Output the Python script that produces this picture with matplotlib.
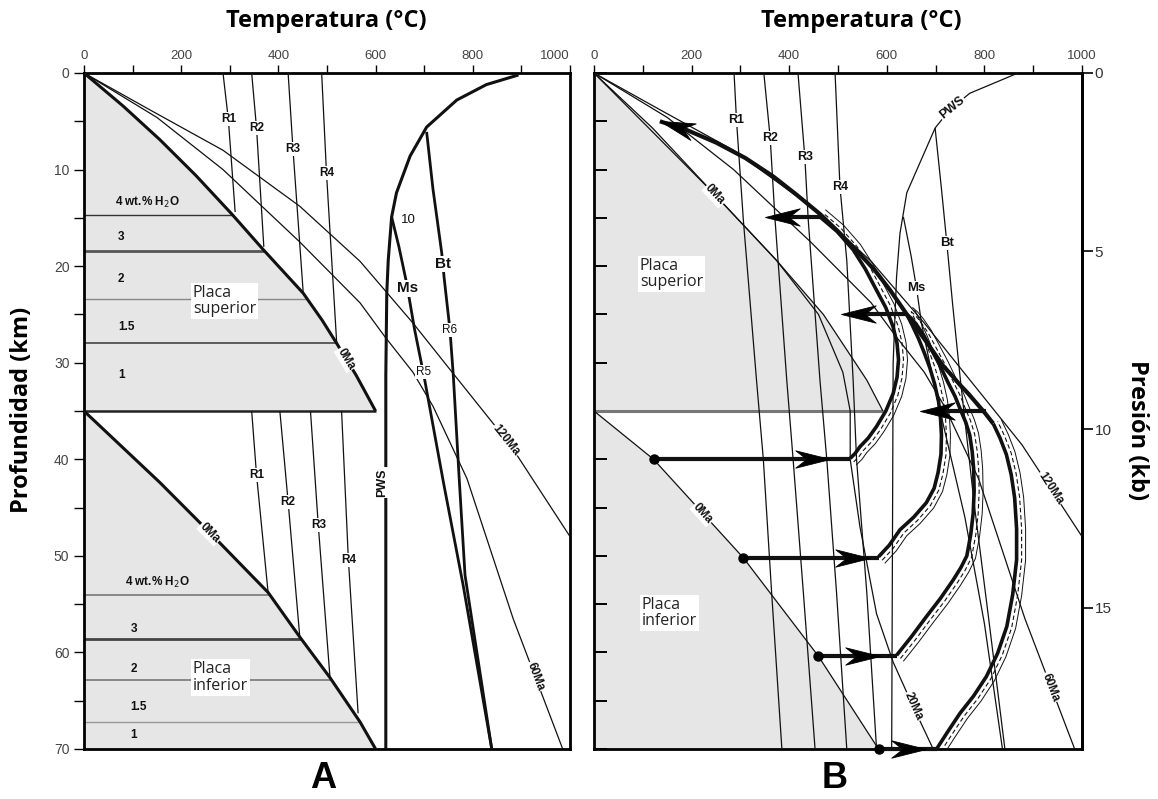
import numpy as np
import matplotlib.pyplot as plt
from matplotlib.path import Path
from matplotlib.markers import MarkerStyle
from matplotlib.transforms import Affine2D

plt.rcParams['font.family'] = ['Liberation Sans', 'DejaVu Sans']

KM_PER_KB = 3.69   # depth -> pressure for the right-hand scale of B

# geotherms used in both panels (T in degC, depth in km)
t_120ma = [0, 135, 286, 444, 568, 677, 753, 877, 1000]
z_120ma = [0, 3.8, 8.0, 13.8, 19.5, 25.9, 30.7, 38.5, 48.0]
t_60ma = [0, 150, 286, 444, 568, 619, 677, 718, 788, 883, 985]
z_60ma = [0, 4.6, 10.0, 17.5, 23.8, 27.3, 31.0, 34.5, 42.0, 56.5, 70.0]

react_names = ['R1', 'R2', 'R3', 'R4']
h2o_labels = ['4 wt.% H$_2$O', '3', '2', '1.5', '1']

# ---------------- panel A ----------------
a_0ma_up_t = [0, 80, 156, 230, 304, 369, 451, 490, 520, 560, 600]
a_0ma_up_z = [0, 3.4, 6.9, 10.6, 14.6, 18.3, 22.8, 25.6, 28.0, 31.3, 35.0]
a_0ma_lo_t = [0, 156, 259, 379, 444, 506, 568, 600]
a_0ma_lo_z = [35.0, 42.4, 47.6, 53.8, 58.4, 62.6, 67.2, 70.0]

a_h2o_up_z = [14.7, 18.4, 23.4, 28.0]
a_h2o_lo_z = [54.1, 58.6, 62.9, 67.2]
a_h2o_up_lab_z = [13.4, 17.0, 21.3, 26.3, 31.3]
a_h2o_lo_lab_z = [52.8, 57.6, 61.7, 65.6, 68.6]

a_react_up_t = [[286, 297, 311], [345, 355, 370], [420, 430, 451], [489, 499, 520]]
a_react_up_z = [[0, 4.8, 14.4], [0, 5.7, 18.0], [0, 7.9, 22.7], [0, 10.4, 28.0]]
a_react_lo_t = [[345, 355, 379], [403, 420, 444], [466, 482, 506], [530, 544, 564]]
a_react_lo_z = [[35, 41.6, 53.9], [35, 44.4, 58.4], [35, 46.8, 62.5], [35, 50.4, 66.3]]

a_pws_t = [894, 828, 767, 705, 671, 643, 633, 626, 623, 621, 621]
a_pws_z = [0.2, 1.2, 2.8, 5.6, 8.6, 12.4, 14.9, 19.4, 22.8, 31.4, 70.0]
a_ms_t = [633, 648, 664, 680, 700, 740, 780, 839]
a_ms_z = [14.9, 18.0, 21.8, 26.5, 31.5, 42.5, 53.0, 70.0]
a_bt_t = [705, 718, 736, 741, 753, 760, 772, 784, 839]
a_bt_z = [6.1, 12.0, 18.6, 21.2, 26.6, 31.4, 42.0, 52.0, 70.0]

# ---------------- panel B ----------------
b_0ma_up_t = [0, 120, 244, 374, 470, 559, 592]
b_0ma_up_z = [0, 5.7, 12.4, 19.4, 25.0, 31.8, 35.0]
b_0ma_lo_t = [0, 122, 306, 460, 583]
b_0ma_lo_z = [35.0, 40.0, 50.2, 60.4, 70.0]
b_20ma_t = [0, 244, 374, 460, 510, 525, 525, 545, 579, 613, 654, 695]
b_20ma_z = [0, 12.4, 19.4, 25.0, 31.0, 35.0, 40.0, 47.0, 56.0, 61.0, 65.6, 70.0]

b_react_t = [[287, 292, 306, 333, 347, 364, 385],
             [348, 361, 371, 395, 408, 429, 453],
             [418, 432, 439, 463, 477, 497, 518],
             [494, 504, 518, 531, 538, 559, 579]]
b_react_z = [[0, 4.9, 15.2, 31.8, 40.0, 53.8, 70.0],
             [0, 6.7, 15.2, 31.8, 40.0, 53.8, 70.0],
             [0, 8.7, 15.2, 31.8, 40.0, 53.8, 70.0],
             [0, 11.8, 19.4, 31.8, 40.0, 53.8, 70.0]]

b_pws_t = [869, 770, 729, 699, 641, 627, 620, 613, 610]
b_pws_z = [0, 2.1, 3.8, 5.7, 12.4, 16.6, 21.1, 30.0, 70.0]
b_ms_t = [634, 650, 661, 671, 700, 760, 800, 837]
b_ms_z = [14.9, 19.0, 22.3, 25.9, 33.0, 46.0, 57.0, 70.0]
b_bt_t = [699, 712, 723, 735, 750, 780, 810, 842]
b_bt_z = [5.7, 12.0, 17.6, 24.0, 31.4, 45.0, 57.0, 70.0]

# isobaric heating of the lower plate (start on 0Ma geotherm)
b_heat_end_t = [525, 583, 620, 702]
b_heat_tip_t = [484, 566, 586, 681]
# isobaric cooling arrows
b_cool_z = [14.9, 25.0, 35.0]
b_cool_start_t = [463, 641, 804]
b_cool_tip_t = [350, 507, 668]

# exhumation loops
arc1_t = [525, 535, 545, 562, 579, 598, 613, 621, 624, 621, 613, 598, 579, 556, 531, 498, 463]
arc1_z = [39.9, 39.4, 38.7, 37.8, 36.6, 35.0, 33.2, 31.5, 29.7, 28.0, 26.3, 24.3, 22.5,
          20.3, 18.3, 16.4, 14.9]
arc2_t = [583, 605, 627, 655, 681, 697, 705, 711, 712, 710, 706, 698, 688, 677, 665, 652, 641]
arc2_z = [50.1, 48.9, 47.3, 46.0, 44.5, 43.0, 41.4, 39.5, 37.5, 35.7, 34.0, 32.2, 30.5,
          29.0, 27.5, 26.1, 25.0]
arc3_t = [620, 650, 681, 710, 736, 752, 764, 772, 777, 779, 778, 775, 770, 762, 752, 740,
          725, 708, 690, 675, 660, 650, 641]
arc3_z = [60.3, 58.4, 56.3, 54.4, 52.5, 51.2, 50.0, 47.8, 45.6, 43.3, 41.0, 39.2, 37.5,
          36.2, 35.0, 33.5, 32.0, 30.2, 28.5, 27.1, 26.0, 25.4, 25.0]
arc4_t = [702, 725, 750, 778, 804, 827, 846, 858, 866, 866, 862, 855, 845, 832, 818]
arc4_z = [70.0, 68.2, 66.3, 64.5, 62.5, 60.1, 57.3, 54.0, 50.4, 47.2, 44.0, 41.6, 39.5,
          37.8, 36.3]
top_t = [818, 801, 784, 767, 750, 733, 715, 682, 648, 607, 575, 540, 502, 463, 415, 367,
         310, 250, 190, 135]
top_z = [36.3, 35.2, 34.2, 33.2, 32.3, 31.3, 30.3, 27.9, 25.5, 22.5, 20.4, 18.5, 16.5,
         14.6, 12.6, 10.7, 8.8, 7.2, 5.9, 5.0]

GRAY = '#e6e6e6'
INK = '#111111'

HEAD = Path([(0, 0), (-1, 0.25), (-0.68, 0), (-1, -0.25), (0, 0)],
            [Path.MOVETO, Path.LINETO, Path.LINETO, Path.LINETO, Path.CLOSEPOLY])


def line(ax, t, z, lw=0.9, color=INK, ls='-', zorder=3, clip=True):
    ax.plot(t, z, color=color, lw=lw, ls=ls, zorder=zorder, clip_on=clip,
            solid_capstyle='butt', solid_joinstyle='round')


def tag(ax, t, z, s, size=8.5, rot=0, weight='bold', ha='center', va='center',
        zorder=6, family=None, box=True):
    kw = {}
    if family:
        kw['family'] = family
    if box:
        kw['bbox'] = dict(boxstyle='square,pad=0.08', fc='white', ec='none')
    ax.text(t, z, s, fontsize=size, rotation=rot, fontweight=weight, ha=ha, va=va,
            zorder=zorder, rotation_mode='anchor', color=INK, **kw)


def tag_on(ax, t, z, at_z, s, rot=None, **kw):
    t = np.asarray(t, float)
    z = np.asarray(z, float)
    tl = np.interp(at_z, z, t)
    i = int(np.clip(np.searchsorted(z, at_z) - 1, 0, len(z) - 2))
    p = ax.transData.transform([(t[i], z[i]), (t[i + 1], z[i + 1])])
    ang = np.degrees(np.arctan2(p[1, 1] - p[0, 1], p[1, 0] - p[0, 0]))
    if ang > 90:
        ang -= 180
    elif ang <= -90:
        ang += 180
    tag(ax, tl, at_z, s, rot=ang if rot is None else rot, **kw)


def head(ax, t, z, ang, clip=True):
    m = MarkerStyle(HEAD, transform=Affine2D().rotate_deg(ang))
    ax.plot([t], [z], marker=m, ms=50, color='k', mew=0.6, ls='none',
            zorder=8, clip_on=clip)


def envelope(ax, t, z, d_px, **kw):
    # copy of a path shifted sideways by d_px screen pixels
    pts = ax.transData.transform(np.column_stack([t, z]))
    d = np.gradient(pts, axis=0)
    n = np.column_stack([d[:, 1], -d[:, 0]])
    n /= np.hypot(n[:, 0], n[:, 1])[:, None]
    moved = ax.transData.inverted().transform(pts + d_px * n)
    ax.plot(moved[:, 0], moved[:, 1], solid_joinstyle='round', **kw)


def frame(ax):
    ax.set_xlim(0, 1000)
    ax.set_ylim(70, 0)
    for sp in ax.spines.values():
        sp.set_linewidth(2.0)
    ax.xaxis.tick_top()
    ax.set_xticks(np.arange(0, 1001, 200))
    ax.set_xticks(np.arange(0, 1001, 100), minor=True)
    ax.tick_params(axis='x', which='both', direction='out', length=6, width=1,
                   labelsize=9.5, labelcolor='#444', pad=2, bottom=False)


def placa(ax, t, z, s):
    ax.text(t, z, s, fontsize=11.5, family='Open Sans', ha='left', va='center',
            linespacing=1.05, zorder=6, color='#222',
            bbox=dict(boxstyle='square,pad=0.12', fc='white', ec='none'))


fig = plt.figure(figsize=(11.58, 7.99), dpi=100)
axA = fig.add_axes([84 / 1158, 1 - 749 / 799, 486 / 1158, 676 / 799])
axB = fig.add_axes([594 / 1158, 1 - 749 / 799, 488 / 1158, 676 / 799])
frame(axA)
frame(axB)

# ---- panel A ----
ax = axA
ax.set_yticks(np.arange(0, 71, 10))
ax.set_yticks(np.arange(0, 71, 5), minor=True)
ax.tick_params(axis='y', which='both', direction='out', length=7, width=1,
               labelsize=10, labelcolor='#444', right=False)
ax.get_xticklabels()[-1].set_ha('right')

ax.fill(np.r_[a_0ma_up_t, 0], np.r_[a_0ma_up_z, 35], color=GRAY, lw=0, zorder=1)
ax.fill(np.r_[a_0ma_lo_t, 0], np.r_[a_0ma_lo_z, 70], color=GRAY, lw=0, zorder=1)

up_styles = [('#333', 1.0), ('#555', 2.0), ('#888', 1.0), ('#444', 1.2)]
lo_styles = [('#777', 1.2), ('#444', 2.0), ('#777', 1.2), ('#999', 1.0)]
for zz, (c, w) in zip(a_h2o_up_z, up_styles):
    line(ax, [0, np.interp(zz, a_0ma_up_z, a_0ma_up_t)], [zz, zz], lw=w, color=c, zorder=2)
for zz, (c, w) in zip(a_h2o_lo_z, lo_styles):
    line(ax, [0, np.interp(zz, a_0ma_lo_z, a_0ma_lo_t)], [zz, zz], lw=w, color=c, zorder=2)
line(ax, [0, a_0ma_up_t[-1]], [35, 35], lw=1.8, color='#222', zorder=2)

for s, zz in zip(h2o_labels, a_h2o_up_lab_z):
    x0 = 64 if s.startswith('4') else 70
    tag(ax, x0, zz, s, size=8.5, ha='left', box=False)
for s, zz in zip(h2o_labels, a_h2o_lo_lab_z):
    x0 = 84 if s.startswith('4') else 96
    tag(ax, x0, zz, s, size=8.5, ha='left', box=False)

line(ax, t_120ma, z_120ma, lw=0.9)
line(ax, t_60ma, z_60ma, lw=0.9)
line(ax, a_0ma_up_t, a_0ma_up_z, lw=2.2, zorder=4)
line(ax, a_0ma_lo_t, a_0ma_lo_z, lw=2.2, zorder=4)

for name, t, z in zip(react_names, a_react_up_t, a_react_up_z):
    line(ax, t, z, lw=0.9)
    tag(ax, t[1], z[1], name)
for name, t, z in zip(react_names, a_react_lo_t, a_react_lo_z):
    line(ax, t, z, lw=0.9)
    tag(ax, t[1], z[1], name)

line(ax, a_pws_t, a_pws_z, lw=2.2, zorder=4)
line(ax, a_ms_t, a_ms_z, lw=2.0, zorder=4)
line(ax, a_bt_t, a_bt_z, lw=2.0, zorder=4)
tag(ax, 613, 42.4, 'PWS', size=9, rot=90)
tag(ax, 652, 15.2, '10', size=9.5, weight='normal', ha='left', box=False)
tag_on(ax, a_ms_t, a_ms_z, 22.3, 'Ms', size=11, rot=0)
tag_on(ax, a_bt_t, a_bt_z, 19.8, 'Bt', size=11, rot=0)
tag_on(ax, a_ms_t, a_ms_z, 31.0, 'R5', size=8.5, rot=0, weight='normal')
tag_on(ax, a_bt_t, a_bt_z, 26.6, 'R6', size=8.5, rot=0, weight='normal')

tag_on(ax, a_0ma_up_t, a_0ma_up_z, 29.6, '0Ma')
tag_on(ax, a_0ma_lo_t, a_0ma_lo_z, 47.6, '0Ma')
tag_on(ax, t_120ma, z_120ma, 38.0, '120Ma')
tag_on(ax, t_60ma, z_60ma, 62.5, '60Ma')

placa(ax, 224, 23.6, 'Placa\nsuperior')
placa(ax, 224, 62.6, 'Placa\ninferior')

# ---- panel B ----
ax = axB
ax.set_yticks(np.arange(0, 71, 5))
ax.tick_params(axis='y', which='both', direction='in', length=9, width=1.4,
               labelleft=False, right=False)
sec = ax.secondary_yaxis('right', functions=(lambda z: z / KM_PER_KB,
                                            lambda p: p * KM_PER_KB))
sec.set_yticks([0, 5, 10, 15])
sec.tick_params(direction='out', length=8, width=1.2, labelsize=11,
                labelcolor='#333', pad=1)
sec.spines['right'].set_linewidth(2.0)

ax.fill(np.r_[b_0ma_up_t, 0], np.r_[b_0ma_up_z, 35], color=GRAY, lw=0, zorder=1)
ax.fill(np.r_[b_0ma_lo_t, 0], np.r_[b_0ma_lo_z, 70], color=GRAY, lw=0, zorder=1)
line(ax, [0, b_0ma_up_t[-1]], [35, 35], lw=2.2, color='#777', zorder=2)

for t, z in zip(b_react_t, b_react_z):
    line(ax, t, z, lw=0.9)
for name, t, z in zip(react_names, b_react_t, b_react_z):
    tag(ax, t[1], z[1], name, size=9)

line(ax, b_0ma_up_t, b_0ma_up_z, lw=0.9)
line(ax, b_0ma_lo_t, b_0ma_lo_z, lw=0.9)
line(ax, b_20ma_t, b_20ma_z, lw=0.9)
line(ax, t_120ma, z_120ma, lw=0.9)
line(ax, t_60ma, z_60ma, lw=0.9)
line(ax, b_pws_t, b_pws_z, lw=0.9)
line(ax, b_ms_t, b_ms_z, lw=0.9)
line(ax, b_bt_t, b_bt_z, lw=0.9)

tag_on(ax, b_pws_t, b_pws_z, 3.6, 'PWS', size=9)
tag_on(ax, b_ms_t, b_ms_z, 22.3, 'Ms', size=9.5, rot=0)
tag_on(ax, b_bt_t, b_bt_z, 17.6, 'Bt', size=9.5, rot=0)
tag_on(ax, b_0ma_up_t, b_0ma_up_z, 12.6, '0Ma')
tag_on(ax, b_0ma_lo_t, b_0ma_lo_z, 45.6, '0Ma')
tag_on(ax, b_20ma_t, b_20ma_z, 65.6, '20Ma')
tag_on(ax, t_60ma, z_60ma, 63.6, '60Ma')
tag_on(ax, t_120ma, z_120ma, 43.0, '120Ma')

# P-T paths
for t, z in [(arc1_t, arc1_z), (arc2_t, arc2_z), (arc3_t, arc3_z), (arc4_t, arc4_z)]:
    envelope(ax, t, z, 5, color=INK, lw=0.8, ls=(0, (4, 2.5)), zorder=4)
    envelope(ax, t, z, 9, color=INK, lw=0.7, zorder=4)
    line(ax, t, z, lw=2.6, zorder=5)
line(ax, top_t, top_z, lw=3.0, zorder=5)
p = ax.transData.transform([(top_t[-2], top_z[-2]), (top_t[-1], top_z[-1])])
head(ax, top_t[-1], top_z[-1], np.degrees(np.arctan2(p[1, 1] - p[0, 1], p[1, 0] - p[0, 0])))

for t0, z0, t1, tip in zip(b_0ma_lo_t[1:], b_0ma_lo_z[1:], b_heat_end_t, b_heat_tip_t):
    edge = z0 >= 70
    line(ax, [t0, t1], [z0, z0], lw=3.0, zorder=5, clip=not edge)
    head(ax, tip, z0, 0, clip=not edge)
    ax.plot([t0], [z0], 'o', ms=6.5, color='k', zorder=8, clip_on=False)

for zz, t0, tip in zip(b_cool_z, b_cool_start_t, b_cool_tip_t):
    line(ax, [t0, tip + 20], [zz, zz], lw=3.0, zorder=5)
    head(ax, tip, zz, 180)

placa(ax, 94, 20.8, 'Placa\nsuperior')
placa(ax, 98, 55.9, 'Placa\ninferior')

# titles and panel letters
fig.text(326 / 1158, 1 - 21 / 799, 'Temperatura (°C)', ha='center', va='center',
         fontsize=17, fontweight='bold', family='Open Sans')
fig.text(861 / 1158, 1 - 21 / 799, 'Temperatura (°C)', ha='center', va='center',
         fontsize=17, fontweight='bold', family='Open Sans')
fig.text(22 / 1158, 1 - 410 / 799, 'Profundidad (km)', ha='center', va='center',
         rotation=90, fontsize=17, fontweight='bold', family='Open Sans')
fig.text(1137 / 1158, 1 - 430 / 799, 'Presión (kb)', ha='center', va='center',
         rotation=-90, fontsize=17, fontweight='bold', family='Open Sans')
fig.text(323 / 1158, 1 - 779 / 799, 'A', ha='center', va='center',
         fontsize=26, fontweight='bold')
fig.text(835 / 1158, 1 - 779 / 799, 'B', ha='center', va='center',
         fontsize=26, fontweight='bold')

fig.savefig('out.png', dpi=100)
